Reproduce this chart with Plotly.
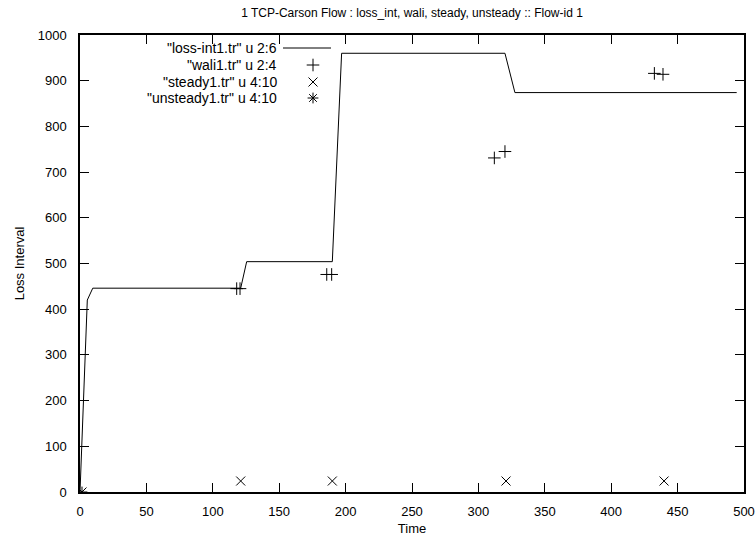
import plotly.graph_objects as go

# loss-int1.tr u 2:6 (line)
loss_x = [0, 5.5, 9.6, 121, 125.5, 190, 197, 320, 327.5, 494.5]
loss_y = [0, 420, 446, 446, 504, 504, 960, 960, 874, 874]

# wali1.tr u 2:4 (+)
wali_x = [118, 120.5, 185.8, 189.5, 312, 320, 432.5, 439]
wali_y = [445, 445, 476, 476, 731, 745, 916, 914]

# steady1.tr u 4:10 (x)
steady_x = [1.5, 121, 190, 320.8, 439.8]
steady_y = [0, 24, 24, 24, 24]

# unsteady1.tr u 4:10 (*)
unsteady_x = [1.5]
unsteady_y = [0]

names = ['"loss-int1.tr" u 2:6', '"wali1.tr" u 2:4', '"steady1.tr" u 4:10', '"unsteady1.tr" u 4:10']

x_ticks = [0, 50, 100, 150, 200, 250, 300, 350, 400, 450, 500]
y_ticks = [0, 100, 200, 300, 400, 500, 600, 700, 800, 900, 1000]

FONT = "Liberation Sans, Arial, Helvetica, sans-serif"
BLACK = "#000000"

fig = go.Figure()
fig.add_trace(go.Scatter(x=loss_x, y=loss_y, mode="lines",
                         line=dict(color=BLACK, width=1), showlegend=False))
fig.add_trace(go.Scatter(x=wali_x, y=wali_y, mode="markers",
                         marker=dict(symbol="cross-thin", size=9, line=dict(color=BLACK, width=1)),
                         showlegend=False))
fig.add_trace(go.Scatter(x=steady_x, y=steady_y, mode="markers",
                         marker=dict(symbol="x-thin", size=9, line=dict(color=BLACK, width=1)),
                         showlegend=False))
fig.add_trace(go.Scatter(x=unsteady_x, y=unsteady_y, mode="markers",
                         marker=dict(symbol="asterisk", size=9, line=dict(color=BLACK, width=1)),
                         showlegend=False))

# Custom gnuplot-style legend (text right-aligned, sample to the right),
# laid out on a hidden overlay axis measured in pixels of the plot area.
row_y = [48, 65, 82, 98]
text_right = 279
for i, nm in enumerate(names):
    fig.add_annotation(x=text_right, y=row_y[i], xref="x2", yref="y2", text=nm,
                       showarrow=False, xanchor="right", yanchor="middle",
                       font=dict(family=FONT, size=14, color=BLACK))
fig.add_trace(go.Scatter(x=[283, 331], y=[row_y[0], row_y[0]], xaxis="x2", yaxis="y2",
                         mode="lines", line=dict(color=BLACK, width=1), showlegend=False,
                         hoverinfo="skip"))
for sym, ry in zip(["cross-thin", "x-thin", "asterisk"], row_y[1:]):
    fig.add_trace(go.Scatter(x=[313], y=[ry], xaxis="x2", yaxis="y2", mode="markers",
                             marker=dict(symbol=sym, size=9, line=dict(color=BLACK, width=1)),
                             showlegend=False, hoverinfo="skip"))

axis_common = dict(showgrid=False, zeroline=False, showline=True, linecolor=BLACK,
                   linewidth=1.5, mirror="ticks", ticks="inside", ticklen=9,
                   tickwidth=1, tickcolor=BLACK, automargin=False,
                   tickfont=dict(family=FONT, size=13, color=BLACK))

fig.update_layout(
    width=756, height=539,
    margin=dict(l=80, r=12, t=35, b=47),
    paper_bgcolor="white", plot_bgcolor="rgba(0,0,0,0)",
    title=dict(text="1 TCP-Carson Flow : loss_int, wali, steady, unsteady :: Flow-id 1",
               x=0.5, xref="paper", xanchor="center", y=1 - 13 / 539, yref="container",
               yanchor="middle",
               font=dict(family=FONT, size=12, color=BLACK)),
    xaxis=dict(range=[0, 500], tickvals=x_ticks, ticktext=[str(v) for v in x_ticks],
               title=dict(text="Time", font=dict(family=FONT, size=13, color=BLACK), standoff=6),
               ticklabelstandoff=7, **axis_common),
    yaxis=dict(range=[0, 1000], tickvals=y_ticks, ticktext=[str(v) for v in y_ticks],
               title=dict(text="Loss Interval", font=dict(family=FONT, size=13, color=BLACK), standoff=10),
               ticklabelstandoff=9, **axis_common),
    xaxis2=dict(domain=[0, 1], range=[80, 744], visible=False, anchor="y2"),
    yaxis2=dict(domain=[0, 1], range=[492, 35], visible=False, anchor="x2"),
)

fig.write_html("out.html")
